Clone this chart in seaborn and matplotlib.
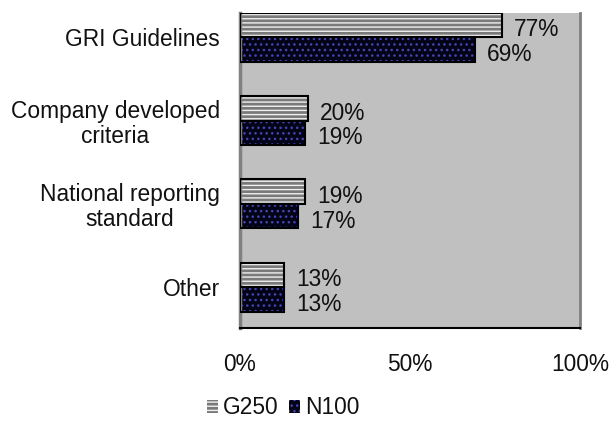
import matplotlib
matplotlib.use("Agg")
import matplotlib.pyplot as plt
from matplotlib.patches import Rectangle, Patch
import seaborn as sns
import pandas as pd

categories = ["GRI Guidelines", "Company developed\ncriteria", "National reporting\nstandard", "Other"]
series_names = ["G250", "N100"]
g250 = [77, 20, 19, 13]
n100 = [69, 19, 17, 13]
xticks = [0, 50, 100]
xtick_labels = ["0%", "50%", "100%"]

df = pd.DataFrame({
    "category": categories * 2,
    "value": g250 + n100,
    "series": [series_names[0]] * 4 + [series_names[1]] * 4,
})

sns.set_style("white")
plt.rcParams["font.family"] = ["Liberation Sans", "DejaVu Sans"]
plt.rcParams["hatch.linewidth"] = 1.0
FS = 16.4
TXT = "#111111"

fig = plt.figure(figsize=(6.09, 4.24), dpi=100)
ax = fig.add_axes([240 / 609, 1 - 328 / 424, 340 / 609, 315 / 424])
ax.set_facecolor("#c0c0c0")

face = {"G250": "#7a7a7a", "N100": "#040418"}
hatchc = {"G250": "#f0f0f0", "N100": "#4646b0"}
hatches = {"G250": "----", "N100": "..."}

sns.barplot(data=df, y="category", x="value", hue="series", orient="h",
            order=categories, hue_order=series_names, width=0.59,
            palette=face, ax=ax, legend=False, saturation=1)

for cont, name in zip(ax.containers, series_names):
    for bar in cont:
        bar.set_facecolor(face[name])
        bar.set_edgecolor(hatchc[name])
        bar.set_hatch(hatches[name])
        bar.set_linewidth(0)
        ax.add_patch(Rectangle(bar.get_xy(), bar.get_width(), bar.get_height(),
                               fill=False, edgecolor="black", linewidth=1.5, zorder=3))
    for bar, v in zip(cont, cont.datavalues):
        ax.text(v + 3.6, bar.get_y() + bar.get_height() / 2 + 0.06, f"{v:.0f}%",
                ha="left", va="center", fontsize=FS, color=TXT)

ax.set_xlim(0, 100)
ax.set_ylim(3.49, -0.29)
ax.set_xticks(xticks)
ax.set_xticklabels(xtick_labels, fontsize=FS, color=TXT)
ax.set_yticks(range(len(categories)))
ax.set_yticklabels(categories, fontsize=FS, color=TXT, ha="center", multialignment="center")
ax.set_xlabel("")
ax.set_ylabel("")

ax.tick_params(axis="y", length=0, pad=0)
fig.canvas.draw()
renderer = fig.canvas.get_renderer()
for lab in ax.get_yticklabels():
    bb = lab.get_window_extent(renderer)
    w = bb.width
    lab.set_x(0)
    lab.set_transform(ax.get_yaxis_transform() + matplotlib.transforms.ScaledTranslation(
        -(20 + w / 2) / 100, 0, fig.dpi_scale_trans))
    lab.set_ha("center")
    lab.set_linespacing(1.12)

ax.tick_params(axis="x", length=7, width=1.2, color="#606060", direction="out", pad=11)
ax.set_yticks([0.5, 1.5, 2.5], minor=True)
ax.tick_params(axis="y", which="minor", length=4, width=1, color="#606060", direction="out")

ax.spines["top"].set_visible(False)
ax.spines["bottom"].set_color("black")
ax.spines["bottom"].set_linewidth(1.5)
ax.spines["left"].set_color("#808080")
ax.spines["left"].set_linewidth(2.5)
ax.spines["right"].set_color("#808080")
ax.spines["right"].set_linewidth(2)

handles = [Patch(facecolor=face[n], edgecolor=hatchc[n], hatch=hatches[n], linewidth=0) for n in series_names]
fig.legend(handles, series_names, loc="center left", bbox_to_anchor=(207 / 609, 1 - 408 / 424),
           ncol=2, frameon=False, fontsize=FS, handlelength=0.5, handleheight=0.5,
           handletextpad=0.2, columnspacing=0.45, borderaxespad=0, borderpad=0,
           labelcolor=TXT)

fig.savefig("out.png", dpi=100)
